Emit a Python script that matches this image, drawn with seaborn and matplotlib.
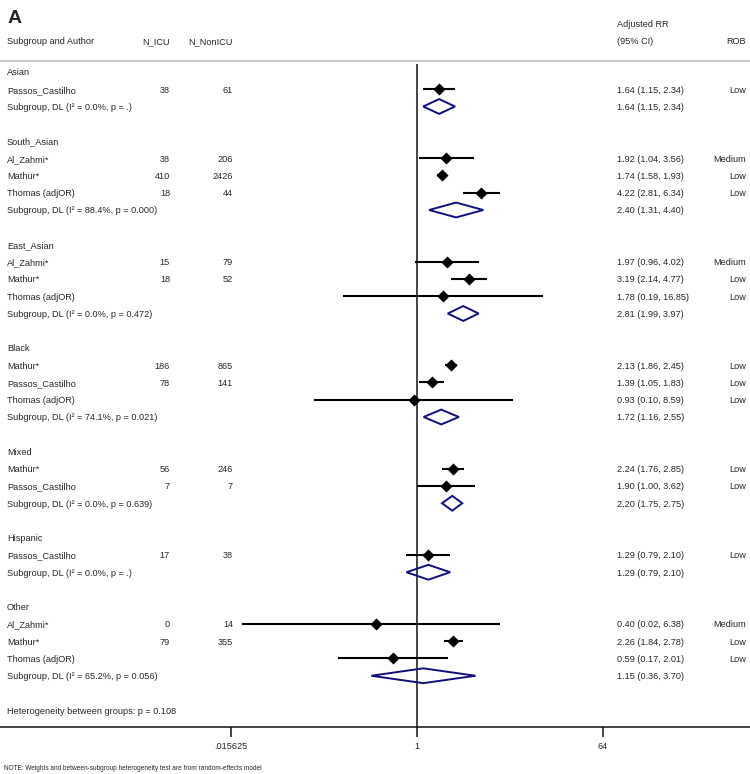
import numpy as np
import pandas as pd
import seaborn as sns
import matplotlib.pyplot as plt
from matplotlib.patches import Polygon

# dados do forest plot
grupos = ['Asian', 'South_Asian', 'East_Asian', 'Black', 'Mixed', 'Hispanic', 'Other']

estudo_grupo = ['Asian',
                'South_Asian', 'South_Asian', 'South_Asian',
                'East_Asian', 'East_Asian', 'East_Asian',
                'Black', 'Black', 'Black',
                'Mixed', 'Mixed',
                'Hispanic',
                'Other', 'Other', 'Other']
autor = ['Passos_Castilho',
         'Al_Zahmi*', 'Mathur*', 'Thomas (adjOR)',
         'Al_Zahmi*', 'Mathur*', 'Thomas (adjOR)',
         'Mathur*', 'Passos_Castilho', 'Thomas (adjOR)',
         'Mathur*', 'Passos_Castilho',
         'Passos_Castilho',
         'Al_Zahmi*', 'Mathur*', 'Thomas (adjOR)']
n_icu = ['38', '38', '410', '18', '15', '18', '', '186', '78', '', '56', '7', '17', '0', '79', '']
n_nonicu = ['61', '206', '2426', '44', '79', '52', '', '865', '141', '', '246', '7', '38', '14', '355', '']
rr = [1.64, 1.92, 1.74, 4.22, 1.97, 3.19, 1.78, 2.13, 1.39, 0.93, 2.24, 1.90, 1.29, 0.40, 2.26, 0.59]
rr_lo = [1.15, 1.04, 1.58, 2.81, 0.96, 2.14, 0.19, 1.86, 1.05, 0.10, 1.76, 1.00, 0.79, 0.02, 1.84, 0.17]
rr_hi = [2.34, 3.56, 1.93, 6.34, 4.02, 4.77, 16.85, 2.45, 1.83, 8.59, 2.85, 3.62, 2.10, 6.38, 2.78, 2.01]
rob = ['Low', 'Medium', 'Low', 'Low', 'Medium', 'Low', 'Low', 'Low', 'Low', 'Low',
       'Low', 'Low', 'Low', 'Medium', 'Low', 'Low']

sub_rr = [1.64, 2.40, 2.81, 1.72, 2.20, 1.29, 1.15]
sub_lo = [1.15, 1.31, 1.99, 1.16, 1.75, 0.79, 0.36]
sub_hi = [2.34, 4.40, 3.97, 2.55, 2.75, 2.10, 3.70]
sub_i2 = ['0.0', '88.4', '0.0', '74.1', '0.0', '0.0', '65.2']
sub_p = ['.', '0.000', '0.472', '0.021', '0.639', '.', '0.056']

ticks = [2 ** -6, 1, 64]
tick_labels = ['.015625', '1', '64']

sns.set_style('white')
plt.rcParams['font.family'] = ['Liberation Sans', 'DejaVu Sans']
fs = 6.6
navy = '#10107a'
va = 'center_baseline'

estudos = pd.DataFrame({'grupo': estudo_grupo, 'autor': autor, 'n_icu': n_icu,
                        'n_nonicu': n_nonicu, 'rr': rr, 'lo': rr_lo, 'hi': rr_hi, 'rob': rob})

# monta as linhas (cabecalho do grupo, estudos, subgrupo, linha em branco)
linha = 0
estudos['row'] = 0
sub_rows = []
head_rows = []
for g in grupos:
    head_rows.append(linha)
    linha += 1
    idx = estudos.index[estudos.grupo == g]
    for i in idx:
        estudos.loc[i, 'row'] = linha
        linha += 1
    sub_rows.append(linha)
    linha += 2
het_row = linha
axis_row = het_row + 0.97

fig = plt.figure(figsize=(7.5, 7.74), dpi=100)
ax = fig.add_axes([0, 0, 1, 1])
ax.set_xscale('log', base=2)
ax.set_xlim(2 ** (-417 / 31), 2 ** (333 / 31))
ax.set_ylim((774 - 72) / 17.25, -72 / 17.25)

# linha vertical no 1
ax.vlines(1, -0.46, axis_row, color='#111111', lw=1.1, zorder=1)

# intervalos de confianca
ax.hlines(estudos.row, estudos.lo, estudos.hi, color='black', lw=1.5, zorder=2)
sns.scatterplot(data=estudos, x='rr', y='row', marker='D', color='black', s=34,
                edgecolor='black', linewidth=0.3, ax=ax, zorder=3, legend=False)

# diamantes dos subgrupos
for r, est, lo, hi in zip(sub_rows, sub_rr, sub_lo, sub_hi):
    h = 0.43
    ax.add_patch(Polygon([[lo, r], [est, r - h], [hi, r], [est, r + h]], closed=True,
                         fill=False, edgecolor=navy, lw=1.4, zorder=3))

tr = ax.get_yaxis_transform()
px = lambda p: p / 750
x_rr = px(617)

# textos
ax.text(px(8), -3.1, 'A', transform=tr, fontsize=14, fontweight='bold', va='center', ha='left')
ax.text(px(7), -1.8, 'Subgroup and Author', transform=tr, fontsize=fs, va=va)
ax.text(px(170), -1.8, 'N_ICU', transform=tr, fontsize=fs, va=va, ha='right')
ax.text(px(233), -1.8, 'N_NonICU', transform=tr, fontsize=fs, va=va, ha='right')
ax.text(x_rr, -2.84, 'Adjusted RR', transform=tr, fontsize=fs, va=va)
ax.text(x_rr, -1.8, '(95% CI)', transform=tr, fontsize=fs, va=va)
ax.text(px(746), -1.8, 'ROB', transform=tr, fontsize=fs, va=va, ha='right')
ax.axhline(-0.64, color='#c8c8c8', lw=1.5)

for g, r in zip(grupos, head_rows):
    ax.text(px(7), r, g, transform=tr, fontsize=fs, va=va)

for _, s in estudos.iterrows():
    ax.text(px(7), s.row, s.autor, transform=tr, fontsize=fs, va=va)
    ax.text(px(170), s.row, s.n_icu, transform=tr, fontsize=fs, va=va, ha='right')
    ax.text(px(233), s.row, s.n_nonicu, transform=tr, fontsize=fs, va=va, ha='right')
    ax.text(x_rr, s.row, f'{s.rr:.2f} ({s.lo:.2f}, {s.hi:.2f})', transform=tr,
            fontsize=fs, va=va)
    ax.text(px(746), s.row, s.rob, transform=tr, fontsize=fs, va=va, ha='right')

for r, est, lo, hi, i2, p in zip(sub_rows, sub_rr, sub_lo, sub_hi, sub_i2, sub_p):
    ax.text(px(7), r, f'Subgroup, DL (I² = {i2}%, p = {p})', transform=tr, fontsize=fs, va=va)
    ax.text(x_rr, r, f'{est:.2f} ({lo:.2f}, {hi:.2f})', transform=tr, fontsize=fs, va=va)

ax.text(px(7), het_row, 'Heterogeneity between groups: p = 0.108', transform=tr,
        fontsize=fs, va=va)
ax.text(px(4), 40.3, 'NOTE: Weights and between-subgroup heterogeneity test are from random-effects model',
        transform=tr, fontsize=4.7, va=va)

# eixo x
for sp in ['top', 'left', 'right']:
    ax.spines[sp].set_visible(False)
ax.spines['bottom'].set_position(('data', axis_row))
ax.spines['bottom'].set_color('#111111')
ax.spines['bottom'].set_linewidth(1.1)
ax.set_xticks(ticks)
ax.set_xticklabels(tick_labels)
ax.minorticks_off()
ax.tick_params(axis='x', direction='out', length=7, width=1.1, pad=4, labelsize=fs,
               bottom=True, color='#111111')
ax.set_yticks([])
ax.set_xlabel('')
ax.set_ylabel('')

fig.savefig('out.png', dpi=100)
